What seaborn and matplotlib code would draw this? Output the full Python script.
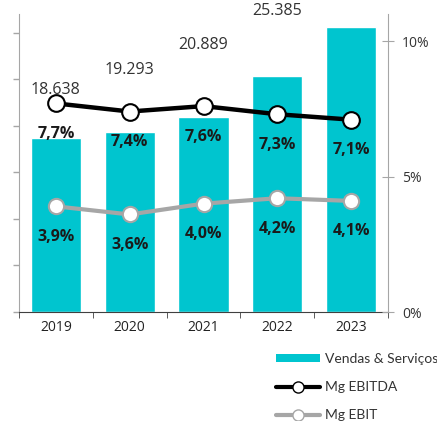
import matplotlib
matplotlib.use("Agg")
import matplotlib.pyplot as plt
import seaborn as sns
import pandas as pd
import numpy as np
from matplotlib.lines import Line2D
from matplotlib.patches import Patch

years = ["2019", "2020", "2021", "2022", "2023"]
vendas = [18638, 19293, 20889, 25385, 30640]
vendas_labels = ["18.638", "19.293", "20.889", "25.385", ""]
mg_ebitda = [7.7, 7.4, 7.6, 7.3, 7.1]
mg_ebit = [3.9, 3.6, 4.0, 4.2, 4.1]
right_ticks = [0, 5, 10]
right_ticklabels = ["0%", "5%", "10%"]

# layout-only: vertical offsets (px) of the sales labels above bars
label_offsets_px = [48, 62, 72, 65, 65]

CYAN = "#00C5CF"
GRAY = "#A6A6A6"
sns.set_style("white")
plt.rcParams["font.family"] = ["Open Sans", "DejaVu Sans"]

df = pd.DataFrame({"Ano": years, "Vendas": vendas, "EBITDA": mg_ebitda, "EBIT": mg_ebit})

fig = plt.figure(figsize=(4.37, 4.21), dpi=100)
ax = fig.add_axes([19/437, 1-312/421, (388-19)/437, (312-14)/421])
sns.barplot(data=df, x="Ano", y="Vendas", color=CYAN, width=0.68, saturation=1, ax=ax, zorder=1)
ax.set_xlim(-0.5, 4.5)
ax.set_ylim(0, 32000)
ax.set_yticks(np.arange(0, 30001, 5000))
ax.set_yticklabels([])
ax.set_xlabel("")
ax.set_ylabel("")
ax.tick_params(axis="y", direction="out", length=4, color=GRAY, width=1, left=True)
ax.set_xticks(range(5))
ax.set_xticklabels(years, fontsize=10, color="#222222")
ax.tick_params(axis="x", length=0, pad=6)
# category boundary ticks
ax.set_xticks(np.arange(-0.5, 5, 1), minor=True)
ax.tick_params(axis="x", which="minor", direction="out", length=4, color="#404040", bottom=True)
for s in ["top", "right"]:
    ax.spines[s].set_visible(False)
ax.spines["left"].set_color(GRAY)
ax.spines["bottom"].set_color("#404040")

for i, (v, lab) in enumerate(zip(vendas, vendas_labels)):
    if lab:
        ax.annotate(lab, (i, v), xytext=(0, label_offsets_px[i]*0.72), textcoords="offset points",
                    ha="center", va="center", fontsize=11.5, color="#333333", annotation_clip=False)

ax2 = ax.twinx()
sns.lineplot(data=df, x="Ano", y="EBIT", color=GRAY, lw=3, marker="o", markersize=11,
             markerfacecolor="white", markeredgecolor=GRAY, markeredgewidth=1.5, ax=ax2, zorder=3)
sns.lineplot(data=df, x="Ano", y="EBITDA", color="black", lw=3.2, marker="o", markersize=12,
             markerfacecolor="white", markeredgecolor="black", markeredgewidth=1.5, ax=ax2, zorder=4)
ax2.set_ylim(0, 11)
ax2.set_xlim(-0.5, 4.5)
ax2.set_yticks(right_ticks)
ax2.set_yticklabels(right_ticklabels, fontsize=10, color="#333333")
ax2.tick_params(axis="y", direction="inout", length=8, color=GRAY, right=True, pad=6)
ax2.set_ylabel("")
ax2.set_xlabel("")
for s in ["top", "left", "bottom"]:
    ax2.spines[s].set_visible(False)
ax2.spines["right"].set_color(GRAY)

def fmt(v):
    return f"{v:.1f}".replace(".", ",") + "%"

for i, v in enumerate(mg_ebitda):
    ax2.annotate(fmt(v), (i, v), xytext=(0, -22), textcoords="offset points", ha="center", va="center",
                 fontsize=11.5, fontweight="bold", color="#1a1a1a")
for i, v in enumerate(mg_ebit):
    ax2.annotate(fmt(v), (i, v), xytext=(0, -22), textcoords="offset points", ha="center", va="center",
                 fontsize=11.5, fontweight="bold", color="#1a1a1a")

handles = [
    Patch(facecolor=CYAN, edgecolor="none"),
    Line2D([], [], color="black", lw=3, marker="o", markersize=8, markerfacecolor="white", markeredgecolor="black"),
    Line2D([], [], color=GRAY, lw=3, marker="o", markersize=8, markerfacecolor="white", markeredgecolor=GRAY),
]
leg = fig.legend(handles, ["Vendas & Serviços", "Mg EBITDA", "Mg EBIT"], loc="upper left",
                 bbox_to_anchor=(276/437, 1-353/421), frameon=False,
                 prop={"family": ["Lato", "DejaVu Sans"], "size": 10},
                 handlelength=3.2, handleheight=0.5, handletextpad=0.3, labelspacing=1.15,
                 borderaxespad=0, borderpad=0)
for t in leg.get_texts():
    t.set_color("#333333")

fig.savefig("out.png", dpi=100)
